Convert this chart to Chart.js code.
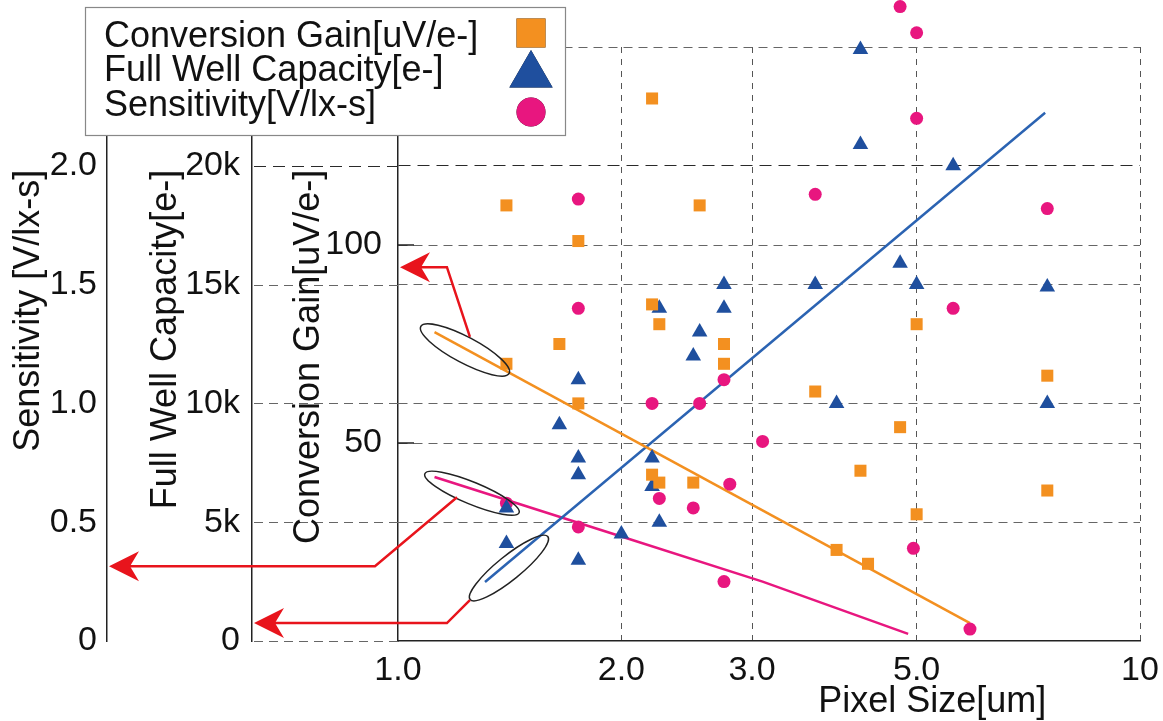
<!DOCTYPE html>
<html>
<head>
<meta charset="utf-8">
<title>Pixel Size vs Conversion Gain / Full Well Capacity / Sensitivity</title>
<script src="https://cdn.jsdelivr.net/npm/chart.js@4.4.1/dist/chart.umd.min.js"></script>
<style>
  html, body { margin: 0; padding: 0; background: #fff; }
  #contenedor { width: 1163px; height: 721px; position: relative; }
</style>
</head>
<body>
<div id="contenedor"><canvas id="grafico"></canvas></div>
<script>
// ************************* DATOS *************************
const xTicks = [1, 2, 3, 5, 10];
const xTickLabels = ["1.0", "2.0", "3.0", "5.0", "10"];

// Conversion Gain [uV/e-]
const cgPixel = [2.2, 1.4, 2.55, 1.75, 2.2, 2.25, 1.65, 1.4, 2.75, 2.75, 1.75, 2.2,
  2.25, 2.5, 3.65, 4.2, 4.75, 3.9, 4.3, 5.0, 7.5, 7.5, 5.0];
const cgValue = [137, 110, 110, 101, 85, 80, 75, 70, 75, 70, 60, 42,
  40, 40, 63, 43, 54, 23, 19.5, 80, 67, 38, 32];

// Full Well Capacity [e-]
const fwPixel = [4.2, 4.2, 5.6, 4.75, 3.65, 5.0, 7.5, 2.75, 2.25, 2.75, 2.55, 2.5,
  3.9, 7.5, 2.2, 2.2, 2.25, 1.75, 1.65, 1.75, 1.75, 1.4, 1.75, 2.0, 1.4];
const fwValue = [24900, 20900, 20000, 15900, 15000, 15000, 14900, 15000, 14000, 14000, 13000, 12000,
  10000, 10000, 7700, 6500, 5000, 11000, 9100, 7700, 7000, 4100, 3400, 4500, 5600];

// Sensitivity [V/lx-s]
const sensPixel = [4.75, 5.0, 5.0, 3.65, 7.5, 5.6, 1.75, 1.75, 2.75, 2.2, 2.55, 3.1,
  2.25, 2.8, 2.5, 1.75, 1.4, 2.75, 4.95, 5.9];
const sensValue = [2.67, 2.56, 2.2, 1.88, 1.82, 1.4, 1.86, 1.4, 1.1, 1.0, 1.0, 0.84,
  0.6, 0.66, 0.56, 0.48, 0.58, 0.25, 0.39, 0.05];

// Líneas de tendencia
const cgFitPixel = [1.12, 5.9];
const cgFitValue = [78, 4.5];
const fwFitPixel = [1.31, 7.45];
const fwFitValue = [2480, 22230];
const sensFitPixel = [1.12, 2.0, 3.1, 4.87];
const sensFitValue = [0.69, 0.44, 0.25, 0.03];

// ************************* ESTILOS *************************
const naranja = "#f39020";
const azul = "#1f4f9e";
const azulLinea = "#2b63b2";
const rosa = "#e8167f";
const rojo = "#e8141c";
const familia = "'Liberation Sans', Arial, sans-serif";
const fuenteTicks = { family: familia, size: 34 };

/**
 * Une dos arrays en puntos {x, y}
 */
function pares(xs, ys) {
  return xs.map((x, i) => ({ x: x, y: ys[i] }));
}

// Anotaciones: elipses alrededor del inicio de cada tendencia
const elipses = [
  { eje: "cg", x: 1.231, y: 73.5, rx: 50, ry: 13, angulo: 28 },
  { eje: "sens", x: 1.258, y: 0.622, rx: 51, ry: 11, angulo: 22.5 },
  { eje: "fw", x: 1.411, y: 3070, rx: 50, ry: 12, angulo: -39 },
];

// Flechas rojas hacia cada eje
const flechas = [
  { eje: "cg", puntos: [[1.25, 76.8], [1.164, 94.4]], destino: "cg" },
  { eje: "sens", puntos: [[1.201, 0.605], [0.931, 0.315]], destino: "sens" },
  { eje: "fw", puntos: [[1.25, 1720], [1.164, 756]], destino: "fw" },
];

const titulosY = [
  { eje: "sens", texto: "Sensitivity [V/lx-s]", dx: 29 },
  { eje: "fw", texto: "Full Well Capacity[e-]", dx: 59 },
  { eje: "cg", texto: "Conversion Gain[uV/e-]", dx: 57 },
];

// ************************* PLUGIN DE DECORACIÓN *************************
let areaOriginal = null;

const decoracion = {
  id: "decoracion",
  // se amplía el área hacia arriba para que se dibujen los puntos que sobresalen
  beforeDatasetsDraw(chart) {
    areaOriginal = chart.chartArea;
    chart.chartArea = Object.assign({}, areaOriginal, { top: 0 });
  },
  afterDatasetsDraw(chart) {
    if (areaOriginal) chart.chartArea = areaOriginal;
    const ctx = chart.ctx;
    const xs = chart.scales.x;
    ctx.save();
    ctx.strokeStyle = "#222";
    ctx.lineWidth = 1.5;
    elipses.forEach((e) => {
      const ys = chart.scales[e.eje];
      ctx.beginPath();
      ctx.ellipse(xs.getPixelForValue(e.x), ys.getPixelForValue(e.y), e.rx, e.ry,
        (e.angulo * Math.PI) / 180, 0, Math.PI * 2);
      ctx.stroke();
    });
    ctx.restore();
  },
  afterDraw(chart) {
    const ctx = chart.ctx;
    const area = chart.chartArea;
    const xs = chart.scales.x;
    const fw = chart.scales.fw;
    const cg = chart.scales.cg;

    ctx.save();
    // prolongación de la rejilla de Full Well entre sus dos ejes
    fw.ticks.forEach((t) => {
      if (t.value > 20000) return;
      const y = Math.round(fw.getPixelForValue(t.value)) + 0.5;
      ctx.strokeStyle = t.value === 20000 ? "#2a2a2a" : "#666";
      ctx.setLineDash(t.value === 20000 ? [12, 7] : [9, 6]);
      ctx.lineWidth = 1;
      ctx.beginPath();
      ctx.moveTo(fw.right + 2, y);
      ctx.lineTo(cg.right, y);
      ctx.stroke();
    });
    ctx.setLineDash([]);

    // marcas cortas hacia dentro en Conversion Gain
    ctx.strokeStyle = "#222";
    ctx.lineWidth = 1.5;
    cg.ticks.forEach((t) => {
      if (t.value !== 50 && t.value !== 100) return;
      const y = cg.getPixelForValue(t.value);
      ctx.beginPath();
      ctx.moveTo(cg.right, y);
      ctx.lineTo(cg.right + 16, y);
      ctx.stroke();
    });

    // flechas rojas
    ctx.strokeStyle = rojo;
    ctx.fillStyle = rojo;
    ctx.lineWidth = 2.5;
    flechas.forEach((f) => {
      const ys = chart.scales[f.eje];
      const pts = f.puntos.map((p) => [xs.getPixelForValue(p[0]), ys.getPixelForValue(p[1])]);
      const tipX = chart.scales[f.destino].right + 2;
      const tipY = pts[pts.length - 1][1];
      ctx.beginPath();
      ctx.moveTo(pts[0][0], pts[0][1]);
      for (let i = 1; i < pts.length; i++) ctx.lineTo(pts[i][0], pts[i][1]);
      ctx.lineTo(tipX + 20, tipY);
      ctx.stroke();
      ctx.beginPath();
      ctx.moveTo(tipX, tipY);
      ctx.lineTo(tipX + 30, tipY - 15);
      ctx.lineTo(tipX + 21, tipY);
      ctx.lineTo(tipX + 30, tipY + 15);
      ctx.closePath();
      ctx.fill();
    });

    // títulos de los ejes
    ctx.fillStyle = "#111";
    ctx.font = "36px " + familia;
    const yFin = fw.getPixelForValue(20000) + 4;
    titulosY.forEach((t) => {
      const s = chart.scales[t.eje];
      ctx.save();
      ctx.translate(s.left + t.dx, yFin);
      ctx.rotate(-Math.PI / 2);
      ctx.textAlign = "right";
      ctx.textBaseline = "middle";
      ctx.fillText(t.texto, 0, 0);
      ctx.restore();
    });
    ctx.textAlign = "center";
    ctx.textBaseline = "alphabetic";
    ctx.fillText("Pixel Size[um]", area.left + 0.72 * (area.right - area.left), area.bottom + 71);

    // leyenda
    const caja = { x: 85, y: 7, w: 480, h: 128 };
    ctx.fillStyle = "#fff";
    ctx.fillRect(caja.x, caja.y, caja.w, caja.h);
    ctx.strokeStyle = "#888";
    ctx.lineWidth = 1.2;
    ctx.strokeRect(caja.x + 0.5, caja.y + 0.5, caja.w, caja.h);
    const lineasTexto = [47, 81, 116];
    const centrosMarca = [33, 75, 112];
    const radios = { rect: 20.5, triangle: 25, circle: 14.5 };
    ctx.font = "36px " + familia;
    ctx.textAlign = "left";
    const items = chart.data.datasets.filter((d) => !d.showLine);
    items.forEach((d, i) => {
      ctx.fillStyle = "#111";
      ctx.fillText(d.label, caja.x + 19, lineasTexto[i]);
      Chart.helpers.drawPoint(ctx, {
        pointStyle: d.pointStyle,
        radius: radios[d.pointStyle],
        rotation: 0,
        borderWidth: 0,
      }, caja.x + 446, centrosMarca[i]);
      ctx.fillStyle = d.backgroundColor;
      ctx.fill();
    });
    ctx.restore();
  },
};

// ************************* GRÁFICO *************************
function cargaGrafico() {
  const datos = {
    datasets: [
      {
        label: "Conversion Gain[uV/e-]",
        data: pares(cgPixel, cgValue),
        yAxisID: "cg",
        pointStyle: "rect",
        pointRadius: 8.5,
        backgroundColor: naranja,
        borderWidth: 0,
        showLine: false,
        clip: false,
        order: 1,
      },
      {
        label: "Full Well Capacity[e-]",
        data: pares(fwPixel, fwValue),
        yAxisID: "fw",
        pointStyle: "triangle",
        pointRadius: 9,
        backgroundColor: azul,
        borderWidth: 0,
        showLine: false,
        clip: false,
        order: 1,
      },
      {
        label: "Sensitivity[V/lx-s]",
        data: pares(sensPixel, sensValue),
        yAxisID: "sens",
        pointStyle: "circle",
        pointRadius: 6.5,
        backgroundColor: rosa,
        borderWidth: 0,
        showLine: false,
        clip: false,
        order: 1,
      },
      {
        data: pares(cgFitPixel, cgFitValue),
        yAxisID: "cg",
        showLine: true,
        pointRadius: 0,
        borderColor: naranja,
        borderWidth: 2.5,
        order: 2,
      },
      {
        data: pares(fwFitPixel, fwFitValue),
        yAxisID: "fw",
        showLine: true,
        pointRadius: 0,
        borderColor: azulLinea,
        borderWidth: 2.5,
        order: 2,
      },
      {
        data: pares(sensFitPixel, sensFitValue),
        yAxisID: "sens",
        showLine: true,
        pointRadius: 0,
        borderColor: rosa,
        borderWidth: 2.5,
        order: 2,
      },
    ],
  };

  const colorRejilla = (v) => (v === 20000 ? "#2a2a2a" : "#666");

  new Chart(document.getElementById("grafico"), {
    type: "scatter",
    data: datos,
    plugins: [decoracion],
    options: {
      responsive: true,
      maintainAspectRatio: false,
      animation: false,
      layout: { padding: { top: 47, right: 23, bottom: 0, left: 0 } },
      plugins: { legend: { display: false }, tooltip: { enabled: false } },
      scales: {
        x: {
          type: "logarithmic",
          position: "bottom",
          min: 1,
          max: 10,
          afterBuildTicks: (s) => {
            s.ticks = xTicks.map((v) => ({ value: v }));
          },
          afterFit: (s) => {
            s.height = 80;
            s.paddingRight = 10;
          },
          ticks: {
            autoSkip: false,
            maxRotation: 0,
            padding: 9,
            color: "#111",
            font: fuenteTicks,
            callback: (v) => {
              const i = xTicks.indexOf(v);
              return i >= 0 ? xTickLabels[i] : "";
            },
          },
          grid: {
            drawTicks: false,
            lineWidth: 1,
            color: (c) => (c.tick && c.tick.value === 1 ? "rgba(0,0,0,0)" : "#555"),
          },
          border: { color: "#222", width: 1.5, dash: [6, 6] },
        },
        cg: {
          type: "linear",
          position: "left",
          weight: 1,
          min: 0,
          max: 150,
          afterFit: (s) => {
            s.width = 146;
          },
          ticks: {
            stepSize: 50,
            padding: 16,
            color: "#111",
            font: fuenteTicks,
            callback: (v) => (v === 50 || v === 100 ? String(v) : ""),
          },
          grid: {
            drawTicks: false,
            lineWidth: 1,
            color: (c) => (c.tick && (c.tick.value === 50 || c.tick.value === 100) ? "#666" : "rgba(0,0,0,0)"),
          },
          border: { color: "#222", width: 1.5, dash: [9, 6] },
        },
        fw: {
          type: "linear",
          position: "left",
          weight: 2,
          min: 0,
          max: 25000,
          afterFit: (s) => {
            s.width = 145;
          },
          ticks: {
            stepSize: 5000,
            padding: 12,
            color: "#111",
            font: fuenteTicks,
            callback: (v) => (v === 0 ? "0" : v > 20000 ? "" : v / 1000 + "k"),
          },
          grid: {
            drawTicks: false,
            lineWidth: 1,
            color: (c) => (c.tick && c.tick.value === 0 ? "rgba(0,0,0,0)" : colorRejilla(c.tick ? c.tick.value : 0)),
          },
          border: {
            color: "#222",
            width: 1.5,
            dash: (c) => (c.tick && c.tick.value === 20000 ? [12, 7] : [9, 6]),
          },
        },
        sens: {
          type: "linear",
          position: "left",
          weight: 3,
          min: 0,
          max: 2.5,
          afterFit: (s) => {
            s.width = 107;
          },
          ticks: {
            stepSize: 0.5,
            padding: 10,
            color: "#111",
            font: fuenteTicks,
            callback: (v) => (v === 0 ? "0" : v > 2.2 ? "" : v.toFixed(1)),
          },
          grid: { drawOnChartArea: false, drawTicks: false },
          border: { color: "#222", width: 1.5 },
        },
      },
    },
  });
}

cargaGrafico();
</script>
</body>
</html>
